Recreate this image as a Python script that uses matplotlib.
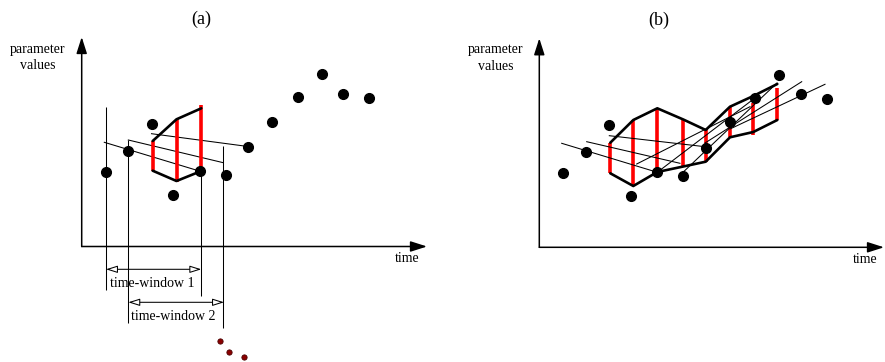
import matplotlib.pyplot as plt
from matplotlib.patches import FancyArrowPatch

plt.rcParams['font.family'] = ['Liberation Serif', 'DejaVu Serif']

# ---- panel (a) : pixel coordinates ----
a_dots_x = [106, 128.3, 151.7, 173.3, 200, 225.7, 247.7, 272.3, 298.3, 322, 343.3, 369]
a_dots_y = [172, 151, 124.3, 195, 171, 175, 147, 122, 97, 74, 93.7, 98]

a_vline_x = [106, 128.3, 201.3, 223.3]
a_vline_top = [107, 140, 171, 145.7]
a_vline_bottom = [290, 322.7, 296, 328.3]

a_fit_x0 = [104.3, 128.3, 151.5]
a_fit_y0 = [142.3, 140, 133.7]
a_fit_x1 = [199.3, 223.3, 248]
a_fit_y1 = [171, 162.7, 146.5]

a_band_x = [152.7, 176.5, 201.3]
a_band_upper = [141, 119.3, 108.3]
a_band_lower = [170.7, 181, 171]
a_bar_top = [141, 119.3, 105]
a_bar_bottom = [170.7, 181.7, 170]

a_windows = ['time-window 1', 'time-window 2']
a_win_x0 = [106, 128.3]
a_win_x1 = [201.3, 224]
a_win_y = [269.3, 302.3]
a_win_text_x = [152.3, 173.7]
a_win_text_y = [283.3, 316]

a_more_x = [220.3, 229.3, 243.7]
a_more_y = [340.7, 351.7, 356.7]

# ---- panel (b) ----
b_dots_x = [563.3, 586, 609, 630.7, 657.3, 683.3, 705.7, 730, 755.3, 779.3, 800.7, 826.7]
b_dots_y = [173.3, 152.3, 125.3, 195.7, 172.3, 176.3, 148, 122.3, 97.7, 75, 94.3, 99]

b_band_x = [610.3, 633.3, 657.3, 683.3, 705.7, 730, 753.3, 777.3]
b_band_upper = [142.7, 120, 108.3, 119.5, 130, 106.7, 96, 84]
b_band_lower = [173.3, 186, 172, 166.5, 161.7, 137.3, 132, 120]
b_bar_top = [142.7, 120, 108.3, 119.3, 129.3, 106.7, 103.3, 88.3]
b_bar_bottom = [173.3, 186, 172, 166.5, 161.7, 137, 135, 120]

b_fit_x0 = [561.7, 586.7, 609.3, 636.7, 657.3, 683.3, 705, 730]
b_fit_y0 = [143.3, 141.7, 135.7, 164, 172.3, 172, 143, 129]
b_fit_x1 = [657.3, 680, 705, 750, 755.3, 777, 801.7, 825]
b_fit_y1 = [172.3, 163.3, 146.7, 106.7, 97.7, 83, 81.7, 84.3]

titles = ['(a)', '(b)']
title_x = [201, 659]
title_y = [19, 20]

# axes: origin and arrow tips
axis_ox = [81.7, 539.3]
axis_oy = [246.5, 247.3]
axis_ytip = [37, 38.3]
axis_xtip = [427, 884]
ylab_x = [38, 496]
ylab_y = [49, 50]
xlab_x = [407, 865]
xlab_y = [258, 259.3]

fig = plt.figure(figsize=(8.85, 3.62), dpi=100)
ax = fig.add_axes([0, 0, 1, 1])
ax.set_xlim(0, 885)
ax.set_ylim(362, 0)
ax.axis('off')


def arrow(x0, y0, x1, y1, style, fc, lw):
    ax.add_patch(FancyArrowPatch((x0, y0), (x1, y1), arrowstyle=style,
                                 mutation_scale=1, lw=lw, edgecolor='black',
                                 facecolor=fc, shrinkA=0, shrinkB=0,
                                 clip_on=False, zorder=2))


for i in range(2):
    arrow(axis_ox[i], axis_oy[i], axis_ox[i], axis_ytip[i],
          '-|>,head_length=10,head_width=3.2', 'black', 1.1)
    arrow(axis_ox[i], axis_oy[i], axis_xtip[i], axis_oy[i],
          '-|>,head_length=10,head_width=3.2', 'black', 1.1)
    ax.text(ylab_x[i], ylab_y[i], 'parameter', ha='center', va='center', fontsize=10)
    ax.text(ylab_x[i], ylab_y[i] + 16.5, 'values', ha='center', va='center', fontsize=10)
    ax.text(xlab_x[i], xlab_y[i], 'time', ha='center', va='center', fontsize=10)
    ax.text(title_x[i], title_y[i], titles[i], ha='center', va='center', fontsize=13)

# panel (a)
ax.vlines(a_vline_x, a_vline_top, a_vline_bottom, color='black', lw=0.75)
for x0, y0, x1, y1 in zip(a_fit_x0, a_fit_y0, a_fit_x1, a_fit_y1):
    ax.plot([x0, x1], [y0, y1], color='black', lw=0.75)
ax.vlines(a_band_x, a_bar_top, a_bar_bottom, color='#ff0000', lw=2.6, zorder=3)
ax.plot(a_band_x, a_band_upper, color='black', lw=1.9, zorder=4, solid_capstyle='round')
ax.plot(a_band_x, a_band_lower, color='black', lw=1.9, zorder=4, solid_capstyle='round')
ax.plot(a_dots_x, a_dots_y, 'o', color='black', ms=7, zorder=5)
for i, label in enumerate(a_windows):
    arrow(a_win_x0[i], a_win_y[i], a_win_x1[i], a_win_y[i],
          '<|-|>,head_length=7,head_width=2.2', 'white', 0.75)
    ax.text(a_win_text_x[i], a_win_text_y[i], label, ha='center', va='center',
            fontsize=10, zorder=1)
ax.plot(a_more_x, a_more_y, 'o', color='#8b0000', mec='#4a0000', mew=0.6, ms=3.8)

# panel (b)
for x0, y0, x1, y1 in zip(b_fit_x0, b_fit_y0, b_fit_x1, b_fit_y1):
    ax.plot([x0, x1], [y0, y1], color='black', lw=0.75, zorder=4)
ax.vlines(b_band_x, b_bar_top, b_bar_bottom, color='#ff0000', lw=2.6, zorder=3)
ax.plot(b_band_x, b_band_upper, color='black', lw=1.9, zorder=4, solid_capstyle='round')
ax.plot(b_band_x, b_band_lower, color='black', lw=1.9, zorder=4, solid_capstyle='round')
ax.plot(b_dots_x, b_dots_y, 'o', color='black', ms=7, zorder=5)

plt.savefig('out.png', dpi=100)
